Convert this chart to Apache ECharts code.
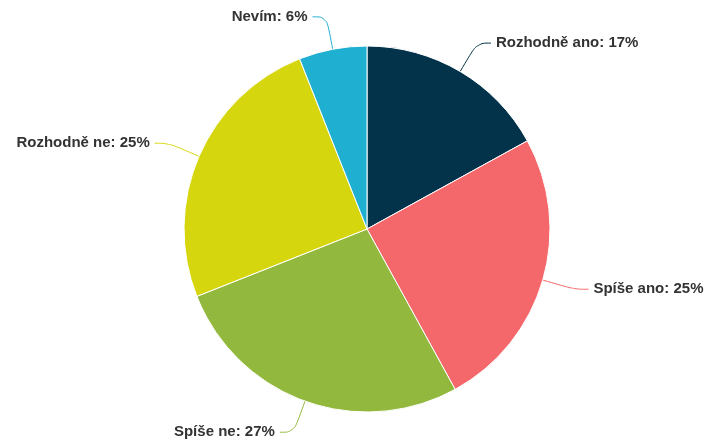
<!DOCTYPE html>
<html><head><meta charset="utf-8">
<script src="https://cdn.jsdelivr.net/npm/echarts@6/dist/echarts.min.js"></script>
<style>html,body{margin:0;padding:0;background:#fff}#c{width:705px;height:445px}</style>
</head><body><div id="c"></div>
<script>
const categories = ["Rozhodně ano", "Spíše ano", "Spíše ne", "Rozhodně ne", "Nevím"];
const values = [17, 25, 27, 25, 6];
const colors = ["#02334a", "#f4676a", "#93b83e", "#d6d60e", "#1fafd0"];

const chart = echarts.init(document.getElementById('c'));
chart.setOption({
  animation: false,
  series: [{
    type: 'pie',
    center: [367, 229],
    radius: [0, 183],
    startAngle: 90,
    clockwise: true,
    avoidLabelOverlap: false,
    itemStyle: { borderColor: '#fff', borderWidth: 1 },
    label: {
      show: true,
      formatter: '{b}: {c}%',
      fontFamily: 'Liberation Sans, Arial, sans-serif',
      fontWeight: 'bold',
      fontSize: 15,
      color: '#333',
      padding: [4, 0, 0, 0]
    },
    labelLine: { show: true, length: 33, length2: 14, smooth: 0.4, lineStyle: { width: 1 } },
    data: categories.map((n, i) => ({ name: n, value: values[i], itemStyle: { color: colors[i] } }))
  }]
});
</script></body></html>
